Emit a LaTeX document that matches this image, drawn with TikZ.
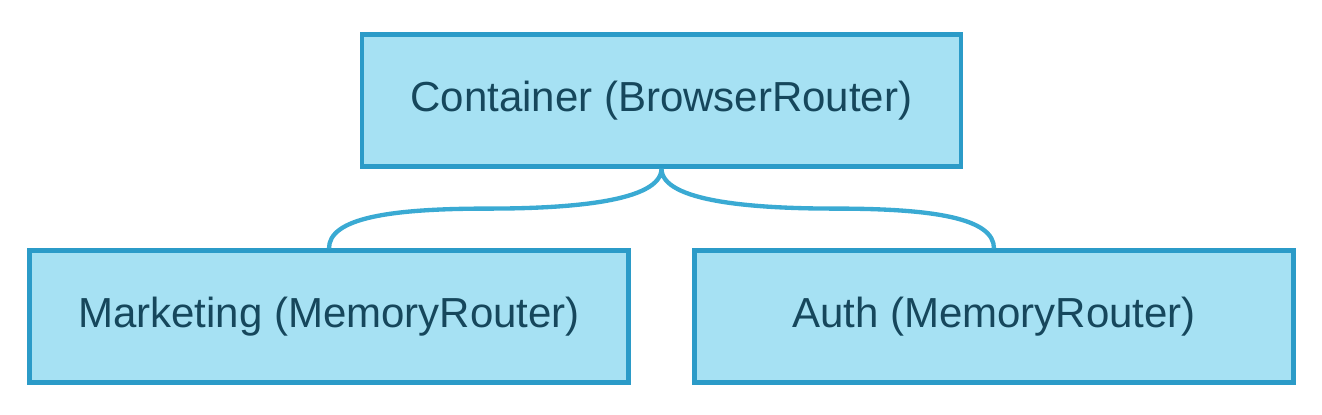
\documentclass[tikz,border=0pt]{standalone}
\usepackage{fontspec}
\setmainfont{Liberation Sans}
\usetikzlibrary{positioning}

\definecolor{boxfill}{HTML}{A6E1F3}
\definecolor{boxline}{HTML}{2B9BC8}
\definecolor{linkline}{HTML}{3AAAD3}
\definecolor{boxtext}{HTML}{16475C}

\tikzset{
  router/.style={draw=boxline,fill=boxfill,line width=1.35pt,
    minimum width=179.6pt,minimum height=39.5pt,
    text=boxtext,font=\fontsize{12.6}{14}\selectfont},
  link/.style={draw=linkline,line width=1.3pt}
}

\begin{document}
\begin{tikzpicture}[node distance=64.8pt and 99.75pt,on grid]
    \node[router] (cont)                     {Container (BrowserRouter)};
    \node[router] (mark) [below left=of cont]  {Marketing (MemoryRouter)};
    \node[router] (auth) [below right=of cont] {Auth (MemoryRouter)};
    \useasboundingbox (cont.center) ++(-198.45pt,30.15pt) rectangle ++(396.6pt,-124.2pt);
    % brace to the children
    \path[link]
    (cont.south) .. controls +(0,-10pt) and +(24pt,0) .. ++(-52pt,-12pt)
                 .. controls +(-30pt,0) and +(0,9pt) .. (mark.north)
    (cont.south) .. controls +(0,-10pt) and +(-24pt,0) .. ++(52pt,-12pt)
                 .. controls +(30pt,0) and +(0,9pt) .. (auth.north);
\end{tikzpicture}
\end{document}
